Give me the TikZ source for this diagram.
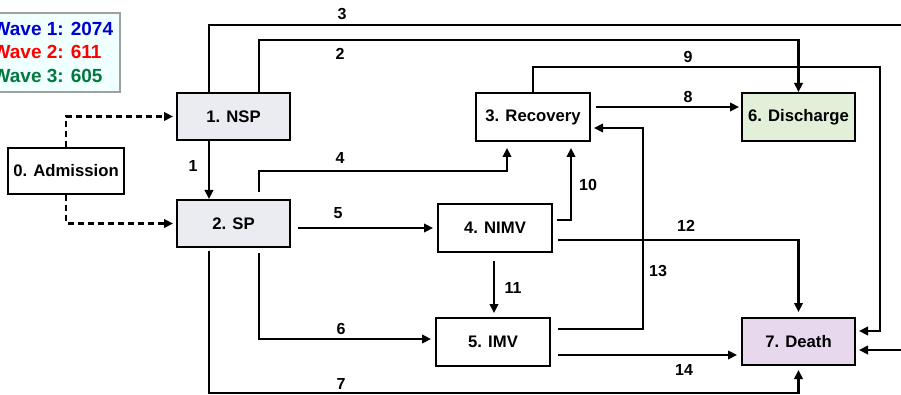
\documentclass[tikz,border=0pt]{standalone}
\usepackage{fontspec}
\setmainfont{Liberation Sans}
\usetikzlibrary{arrows.meta,calc}
\definecolor{spfill}{HTML}{EBEBF2}
\definecolor{disfill}{HTML}{E2F0D9}
\definecolor{deathfill}{HTML}{E8D8EE}
\definecolor{legfill}{HTML}{F0FFFF}
\definecolor{legdraw}{HTML}{A0A0A0}
\definecolor{wblue}{HTML}{0000CC}
\definecolor{wred}{HTML}{FF0000}
\definecolor{wgreen}{HTML}{007A3D}
\begin{document}
\begin{tikzpicture}[x=1pt,y=-1pt,
  box/.style={draw=black,line width=2pt,minimum width=113pt,minimum height=47pt,inner sep=0pt,font=\fontsize{16.7}{18}\selectfont\bfseries},
  arr/.style={line width=2.3pt,-{Triangle[length=9pt,width=8.5pt]}},
  dasharr/.style={arr,dash pattern=on 6pt off 4pt},
  lab/.style={font=\fontsize{16}{18}\selectfont\bfseries,inner sep=0pt},
  legtxt/.style={font=\fontsize{19}{20}\selectfont\bfseries,inner sep=0pt,anchor=base west}]
\useasboundingbox (0,0) rectangle (901,395);
\clip (0,0) rectangle (901,395);

% legend
\node[draw=legdraw,fill=legfill,line width=1.3pt,minimum width=132pt,minimum height=79pt,inner sep=0pt] (legend) at (54,52.5) {};
\node[legtxt,text=wblue] (w1) at (-7.5,36) {Wave 1: 2074};
\node[legtxt,text=wred] (w2) at (-7.5,59) {Wave 2: 611};
\node[legtxt,text=wgreen] (w3) at (-7.5,82.5) {Wave 3: 605};

% nodes
\node[box,fill=white,minimum width=116pt,minimum height=46pt] (adm) at (66,171) {0. Admission};
\node[box,fill=spfill] (nsp) at (233.5,116.5) {1. NSP};
\node[box,fill=spfill] (sp) at (233.5,223.5) {2. SP};
\node[box,fill=white,minimum width=114pt,minimum height=48pt] (rec) at (533,117) {3. Recovery};
\node[box,fill=white,minimum width=114pt,minimum height=48pt] (nimv) at (495,228) {4. NIMV};
\node[box,fill=white,minimum width=114pt,minimum height=48pt] (imv) at (493,342) {5. IMV};
\node[box,fill=disfill,minimum height=48pt] (dis) at (798.5,117) {6. Discharge};
\node[box,fill=deathfill] (death) at (798.5,341.5) {7. Death};

% helper coordinates
\coordinate (y2) at (0,40);
\coordinate (e3a) at (915,25);
\coordinate (e3b) at (915,350);
\coordinate (e9a) at (880,67);
\coordinate (e9b) at (880,331);
\coordinate (y4) at (0,171);
\coordinate (x13) at (643,0);
\coordinate (y6) at (0,339);
\coordinate (y7) at (0,393);

% admission dashed
\draw[dasharr,shorten >=3pt] (adm.north) |- (nsp.west);
\draw[dasharr,shorten >=3pt] (adm.south) |- (sp.west);

% 1
\draw[arr] ($(nsp.south)+(-24.5,0)$) -- ($(sp.north)+(-24.5,0)$);
% 2
\draw[arr] ($(nsp.north)+(25.5,0)$) |- (dis.north |- y2) -- (dis.north);
% 3
\draw[arr,shorten >=3pt] ($(nsp.north)+(-24.5,0)$) |- (e3a) -- (e3b) -- (e3b -| death.east);
% 9
\draw[arr,shorten >=3pt] (rec.north) |- (e9a) -- (e9b) -- (e9b -| death.east);
% 8
\coordinate (s8) at ($(rec.east)+(5,-10)$);
\draw[arr,shorten >=2pt] (s8) -- (s8 -| dis.west);
% 4
\coordinate (s4) at ($(sp.north)+(25.5,-7)$);
\coordinate (t4) at ($(rec.south)+(-26,6)$);
\draw[arr] (s4) |- (y4 -| t4) -- (t4);
% 5
\coordinate (s5) at ($(sp.east |- nimv.west)+(7,0)$);
\draw[arr,shorten >=4pt] (s5) -- (nimv.west);
% 10
\coordinate (s10) at ($(nimv.east)+(4,-8)$);
\coordinate (t10) at ($(rec.south)+(38,6)$);
\draw[arr] (s10) -| (t10);
% 11
\draw[arr,shorten >=4pt] ($(nimv.south)+(-1,8)$) -- (imv.north -| 494,0);
% 12
\coordinate (s12) at ($(nimv.east)+(5,12)$);
\draw[arr,shorten >=5pt] (s12) -| (death.north);
% 13
\coordinate (s13) at ($(imv.east)+(7,-13)$);
\coordinate (t13) at ($(rec.east)+(3,11)$);
\draw[arr] (s13) -| (x13 |- t13) -- (t13);
% 14
\coordinate (s14) at ($(imv.east)+(7,13)$);
\draw[arr,shorten >=4pt] (s14) -- (s14 -| death.west);
% 6
\coordinate (s6) at ($(sp.south)+(25.5,5)$);
\draw[arr,shorten >=4pt] (s6) |- (y6 -| imv.west);
% 7
\coordinate (s7) at ($(sp.south)+(-24.5,3)$);
\draw[arr,shorten >=4pt] (s7) |- (y7 -| death.south) -- (death.south);

% labels
\node[lab] (l1) at (193,166) {1};
\node[lab] (l2) at (340,54) {2};
\node[lab] (l3) at (342,14) {3};
\node[lab] (l4) at (340,158) {4};
\node[lab] (l5) at (338,213) {5};
\node[lab] (l6) at (341,329) {6};
\node[lab] (l7) at (341,384) {7};
\node[lab] (l8) at (688,97) {8};
\node[lab] (l9) at (688,57) {9};
\node[lab] (l10) at (588,185) {10};
\node[lab] (l11) at (513,288) {11};
\node[lab] (l12) at (686,226) {12};
\node[lab] (l13) at (658,271) {13};
\node[lab] (l14) at (684,370) {14};
\end{tikzpicture}
\end{document}
